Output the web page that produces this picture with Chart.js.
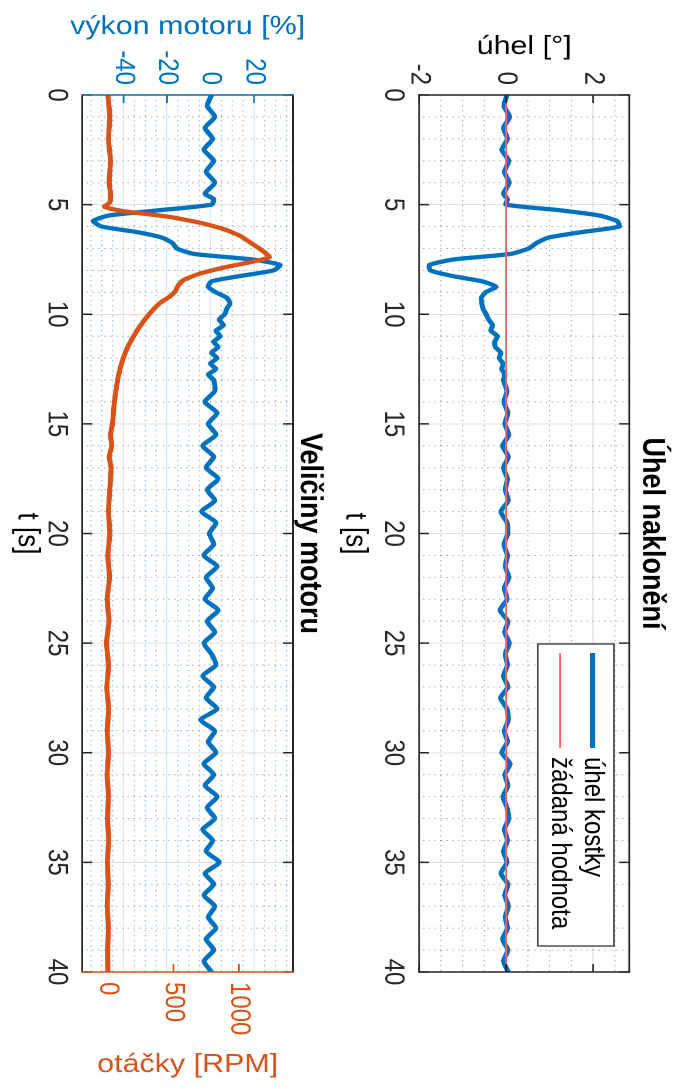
<!DOCTYPE html>
<html>
<head>
<meta charset="utf-8">
<script src="https://cdn.jsdelivr.net/npm/chart.js@4.4.1/dist/chart.umd.min.js"></script>
<style>
  html, body { margin: 0; padding: 0; background: #fff; overflow: hidden; }
  /* the figure is drawn landscape and turned a quarter clockwise, slightly stretched like the original */
  #fig {
    position: absolute; left: 0; top: 0; width: 1091px; height: 580px;
    transform-origin: 0 0;
    transform: translateX(679px) rotate(90deg) scale(1, 1.1707);
  }
  canvas { position: absolute; left: 0; }
</style>
</head>
<body>
<div id="fig">
  <canvas id="c1" width="1091" height="290" style="top:0"></canvas>
  <canvas id="c2" width="1091" height="280" style="top:290px"></canvas>
</div>
<script>
'use strict';

// time axis [s]
let tGrid = [0, 0.5, 1, 1.5, 2, 2.5, 3, 3.5, 4, 4.5,
  4.75, 5, 5.25, 5.5, 5.75, 6, 6.25, 6.5, 6.75, 7, 7.25, 7.5, 7.75, 8, 8.25, 8.5, 8.75,
  9, 9.25, 9.5, 9.75, 10, 10.25, 10.5, 10.75, 11, 11.25, 11.5, 11.75, 12, 12.25, 12.5, 12.75, 13,
  13.5, 14, 14.5, 15, 15.5, 16, 16.5, 17, 17.5, 18, 18.5, 19, 19.5, 20, 20.5, 21, 21.5, 22,
  22.5, 23, 23.5, 24, 24.5, 25, 25.5, 26, 26.5, 27, 27.5, 28, 28.5, 29, 29.5, 30, 30.5, 31,
  31.5, 32, 32.5, 33, 33.5, 34, 34.5, 35, 35.5, 36, 36.5, 37, 37.5, 38, 38.5, 39, 39.5, 40];

// úhel kostky [°]
let uhel = [0.02, -0.05, 0.08, -0.06, 0.03, -0.1, 0.06, -0.04, 0.07, -0.06,
  0.03, 0.0, 1.2, 2.15, 2.55, 2.6, 1.75, 0.98, 0.7, 0.52, 0.1, -1.2, -1.76, -1.74, -1.25, -0.55, -0.23,
  -0.47, -0.57, -0.56, -0.53, -0.46, -0.4, -0.31, -0.35, -0.2, -0.26, -0.25, -0.12, -0.16, -0.07, -0.1, -0.03, -0.06,
  0.02, -0.05, 0.04, -0.03, 0.06, -0.08, 0.05, -0.06, 0.03, -0.02,
  0.05, -0.12, 0.02, 0.04, -0.05, 0.03, -0.02, 0.06, -0.04, 0.02,
  -0.14, 0.04, -0.03, 0.07, -0.02, 0.03, -0.06, 0.04, -0.13, 0.02,
  0.05, -0.04, 0.03, -0.1, 0.09, -0.03, 0.04, -0.07, 0.02, 0.06,
  -0.04, 0.03, -0.06, 0.02, -0.12, 0.04, -0.03, 0.05, -0.02, 0.03,
  -0.08, 0.04, -0.06, 0.05];

// výkon motoru [%]
let vykon = [0.5, -1.5, 2, -2.5, 1, -3, 1.5, -2, 2, -2.5,
  1.5, 0.5, -23, -47, -54, -50, -34, -22.5, -17.5, -15.5, -7.5, 19, 32, 29, 14, 0.5, -1,
  2.5, 7.5, 9, 7.5, 6.5, 4, 6, 2.5, 4.5, 1.5, 3.5, 0.5, 3, 0, 2.5, -1, 1.5,
  2, -2.5, 3, -1, 2.5, -3.5, 1.5, -2, 3.5, -1.5,
  2, -4, 2.5, -0.5, 1.5, -3, 3, -2, 1, -2.5,
  3.5, -1.5, 2, -3, 0.5, 2.5, -3.5, 1.5, -2, 3,
  -4.5, 2, -1, 2.5, -3, 1.5, -2.5, 3, -1.5, 2,
  -3.5, 1, -2, 4, -2.5, 1.5, -3, 2, -1, 2.5,
  -2, 1.5, -3, 0.5];

// otáčky [RPM]
let tRpm = [0, 1, 2, 3, 4, 4.5, 4.9, 5.1, 5.3, 5.55, 5.85, 6.15, 6.45, 6.75, 7.0, 7.2, 7.4, 7.6, 7.85, 8.15,
  8.45, 8.7, 8.95, 9.2, 9.5, 10, 10.7, 11.5, 12.3, 13, 14, 15, 15.5, 16, 16.5, 17, 18, 19, 20, 21,
  22, 23, 24, 25, 26, 27, 28, 29, 30, 31, 32, 33, 34, 35, 36, 37, 38, 39, 40];
let otacky = [0, 15, 5, 20, 10, 20, 15, -25, 120, 460, 720, 900, 1015, 1092, 1155, 1200, 1232, 1105, 900, 700,
  575, 535, 515, 470, 395, 315, 228, 152, 102, 75, 50, 35, 20, 30, 10, 25, 15, 5, 15, 0,
  12, -5, 8, -10, 5, -8, 6, -5, 5, -6, 4, -3, 6, -4, 3, -5, 4, -2, 0];

// žádaná hodnota [°]
let tSet = [0, 40];
let zadana = [0, 0];

// axis limits and tick labels
let tRange = [0, 40];
let tTicks = [0, 5, 10, 15, 20, 25, 30, 35, 40];
let uhelRange = [-2, 2.83];
let uhelTicks = [-2, 0, 2];
let vykonRange = [-59, 38];
let vykonTicks = [-40, -20, 0, 20];
let otackyRange = [-195, 1412];
let otackyTicks = [0, 500, 1000];

const BLUE = '#0072BD';
const ORANGE = '#D95319';
const AX = '#262626';

Chart.defaults.font.family = '"Liberation Sans", Arial, Helvetica, sans-serif';
Chart.defaults.color = AX;

function pts(xs, ys) {
  return xs.map((x, i) => ({x: x, y: ys[i]}));
}

function fixedTicks(list) {
  return s => { s.ticks = list.map(v => ({value: v})); };
}

// plain numbers, no thousands separator
function plain(v) {
  return String(v);
}

// minor dotted grid, box edges and inward ticks like the MATLAB axes
const matlabAxes = {
  id: 'matlabAxes',
  beforeDatasetsDraw(chart, args, o) {
    const ctx = chart.ctx, a = chart.chartArea;
    ctx.save();
    ctx.lineWidth = 1;
    ctx.setLineDash([1.3, 3.7]);
    (o.minor || []).forEach(m => {
      const sc = chart.scales[m.scale];
      ctx.strokeStyle = m.color;
      for (let k = Math.ceil(sc.min / m.step - 1e-9); k * m.step <= sc.max + 1e-9; k++) {
        const v = k * m.step;
        if (Math.abs(v / m.major - Math.round(v / m.major)) < 1e-6) continue;
        const p = sc.getPixelForValue(v);
        ctx.beginPath();
        if (sc.isHorizontal()) { ctx.moveTo(p, a.top); ctx.lineTo(p, a.bottom); }
        else { ctx.moveTo(a.left, p); ctx.lineTo(a.right, p); }
        ctx.stroke();
      }
    });
    ctx.restore();
  },
  afterDatasetsDraw(chart, args, o) {
    const ctx = chart.ctx, a = chart.chartArea;
    ctx.save();
    ctx.lineWidth = 1.5;
    (o.ticks || []).forEach(t => {
      const sc = chart.scales[t.scale];
      ctx.strokeStyle = t.color;
      sc.ticks.forEach(tk => {
        const p = sc.getPixelForValue(tk.value);
        t.sides.forEach(s => {
          ctx.beginPath();
          if (s === 'bottom') { ctx.moveTo(p, a.bottom); ctx.lineTo(p, a.bottom - 8.5); }
          if (s === 'top') { ctx.moveTo(p, a.top); ctx.lineTo(p, a.top + 8.5); }
          if (s === 'left') { ctx.moveTo(a.left, p); ctx.lineTo(a.left + 8, p); }
          if (s === 'right') { ctx.moveTo(a.right, p); ctx.lineTo(a.right - 8, p); }
          ctx.stroke();
        });
      });
    });
    const e = o.edges;
    ctx.lineCap = 'square';
    [['top', a.left, a.top, a.right, a.top], ['bottom', a.left, a.bottom, a.right, a.bottom],
     ['left', a.left, a.top, a.left, a.bottom], ['right', a.right, a.top, a.right, a.bottom]].forEach(l => {
      ctx.strokeStyle = e[l[0]];
      ctx.beginPath(); ctx.moveTo(l[1], l[2]); ctx.lineTo(l[3], l[4]); ctx.stroke();
    });
    ctx.restore();
  },
  afterDraw(chart, args, o) {
    const ctx = chart.ctx, a = chart.chartArea;
    if (o.rightTitle) {
      const r = o.rightTitle;
      ctx.save();
      ctx.translate(r.x, (a.top + a.bottom) / 2);
      ctx.rotate(-Math.PI / 2);
      ctx.font = '26px "Liberation Sans", Arial, sans-serif';
      ctx.fillStyle = r.color;
      ctx.textAlign = 'center';
      ctx.textBaseline = 'middle';
      ctx.fillText(r.text, 0, 0);
      ctx.restore();
    }
    if (o.legend) {
      const L = o.legend;
      const x0 = a.right - L.right - L.width, y0 = a.top + L.top;
      ctx.save();
      ctx.fillStyle = '#fff';
      ctx.fillRect(x0, y0, L.width, L.height);
      ctx.strokeStyle = AX;
      ctx.lineWidth = 1.2;
      ctx.strokeRect(x0, y0, L.width, L.height);
      ctx.font = '24px "Liberation Sans", Arial, sans-serif';
      ctx.textBaseline = 'middle';
      chart.data.datasets.forEach((ds, i) => {
        const y = y0 + L.rows[i];
        ctx.strokeStyle = ds.borderColor;
        ctx.lineWidth = ds.borderWidth;
        ctx.beginPath(); ctx.moveTo(x0 + 9, y); ctx.lineTo(x0 + 104, y); ctx.stroke();
        ctx.fillStyle = '#000';
        ctx.fillText(ds.label, x0 + 113, y);
      });
      ctx.restore();
    }
  }
};

function xScale(h) {
  return {
    type: 'linear', position: 'bottom', min: tRange[0], max: tRange[1],
    afterFit: s => { s.height = h; },
    afterBuildTicks: fixedTicks(tTicks),
    border: {display: false},
    grid: {color: 'rgba(38,38,38,0.15)', lineWidth: 1, drawTicks: false},
    ticks: {padding: 10.4, autoSkip: false, maxRotation: 0, callback: plain, font: {size: 24, lineHeight: 1}, color: AX},
    title: {display: true, text: 't [s]', color: '#000', font: {size: 26, lineHeight: 1}, padding: {top: 0, bottom: 0}}
  };
}

const lineStyle = {pointRadius: 0, tension: 0.2, borderJoinStyle: 'round', borderCapStyle: 'round', fill: false};

new Chart(document.getElementById('c1'), {
  type: 'line',
  data: {
    datasets: [
      Object.assign({label: 'úhel kostky', data: pts(tGrid, uhel), borderColor: BLUE, borderWidth: 4.3, order: 2}, lineStyle),
      Object.assign({label: 'žádaná hodnota', data: pts(tSet, zadana), borderColor: '#ff5f5f', borderWidth: 1.4, order: 1}, lineStyle)
    ]
  },
  options: {
    responsive: false,
    animation: false,
    devicePixelRatio: 2,
    layout: {padding: {left: 0, right: 119, top: 0, bottom: 0}},
    scales: {
      x: xScale(68),
      y: {
        type: 'linear', position: 'left', min: uhelRange[0], max: uhelRange[1],
        afterFit: s => { s.width = 95; },
        afterBuildTicks: fixedTicks(uhelTicks),
        border: {display: false},
        grid: {color: 'rgba(38,38,38,0.15)', lineWidth: 1, drawTicks: false},
        ticks: {padding: 10, callback: plain, font: {size: 24}, color: AX},
        title: {display: true, text: 'úhel [°]', color: '#000', font: {size: 26, lineHeight: 1}, padding: {top: 34, bottom: 0}}
      }
    },
    plugins: {
      legend: {display: false},
      tooltip: {enabled: false},
      title: {display: true, text: 'Úhel naklonění', fullSize: false, color: '#000',
        font: {size: 27, weight: 'bold', lineHeight: 1}, padding: {top: 9.5, bottom: 6}},
      matlabAxes: {
        minor: [{scale: 'x', step: 1, major: 5, color: 'rgba(38,38,38,0.4)'},
                {scale: 'y', step: 0.5, major: 2, color: 'rgba(38,38,38,0.4)'}],
        ticks: [{scale: 'x', sides: ['bottom', 'top'], color: AX},
                {scale: 'y', sides: ['left', 'right'], color: AX}],
        edges: {top: AX, bottom: AX, left: AX, right: AX},
        legend: {right: 26, top: 13.1, width: 302, height: 65, rows: [18.2, 46.1]}
      }
    }
  },
  plugins: [matlabAxes]
});

new Chart(document.getElementById('c2'), {
  type: 'line',
  data: {
    datasets: [
      Object.assign({label: 'výkon motoru', data: pts(tGrid, vykon), borderColor: BLUE, borderWidth: 4.3, yAxisID: 'y', order: 2}, lineStyle),
      Object.assign({label: 'otáčky', data: pts(tRpm, otacky), borderColor: ORANGE, borderWidth: 4.3, yAxisID: 'y1', order: 1}, lineStyle)
    ]
  },
  options: {
    responsive: false,
    animation: false,
    devicePixelRatio: 2,
    layout: {padding: 0},
    scales: {
      x: xScale(60.3),
      y: {
        type: 'linear', position: 'left', min: vykonRange[0], max: vykonRange[1],
        afterFit: s => { s.width = 95; },
        afterBuildTicks: fixedTicks(vykonTicks),
        border: {display: false},
        grid: {color: 'rgba(0,114,189,0.15)', lineWidth: 1, drawTicks: false},
        ticks: {padding: 10, callback: plain, font: {size: 24}, color: BLUE},
        title: {display: true, text: 'výkon motoru [%]', color: BLUE, font: {size: 26, lineHeight: 1}, padding: {top: 14, bottom: 0}}
      },
      y1: {
        type: 'linear', position: 'right', min: otackyRange[0], max: otackyRange[1],
        afterFit: s => { s.width = 119; },
        afterBuildTicks: fixedTicks(otackyTicks),
        border: {display: false},
        grid: {drawOnChartArea: false, drawTicks: false},
        ticks: {padding: 10, callback: plain, font: {size: 24}, color: ORANGE},
        title: {display: false}
      }
    },
    plugins: {
      legend: {display: false},
      tooltip: {enabled: false},
      title: {display: true, text: 'Veličiny motoru', fullSize: false, color: '#000',
        font: {size: 27, weight: 'bold', lineHeight: 1}, padding: {top: 11.9, bottom: 0.8}},
      matlabAxes: {
        minor: [{scale: 'x', step: 1, major: 5, color: 'rgba(38,38,38,0.4)'},
                {scale: 'y', step: 5, major: 20, color: 'rgba(0,114,189,0.45)'}],
        ticks: [{scale: 'x', sides: ['bottom', 'top'], color: AX},
                {scale: 'y', sides: ['left'], color: BLUE},
                {scale: 'y1', sides: ['right'], color: ORANGE}],
        edges: {top: AX, bottom: AX, left: BLUE, right: ORANGE},
        rightTitle: {text: 'otáčky [RPM]', color: ORANGE, x: 1065}
      }
    }
  },
  plugins: [matlabAxes]
});
</script>
</body>
</html>
